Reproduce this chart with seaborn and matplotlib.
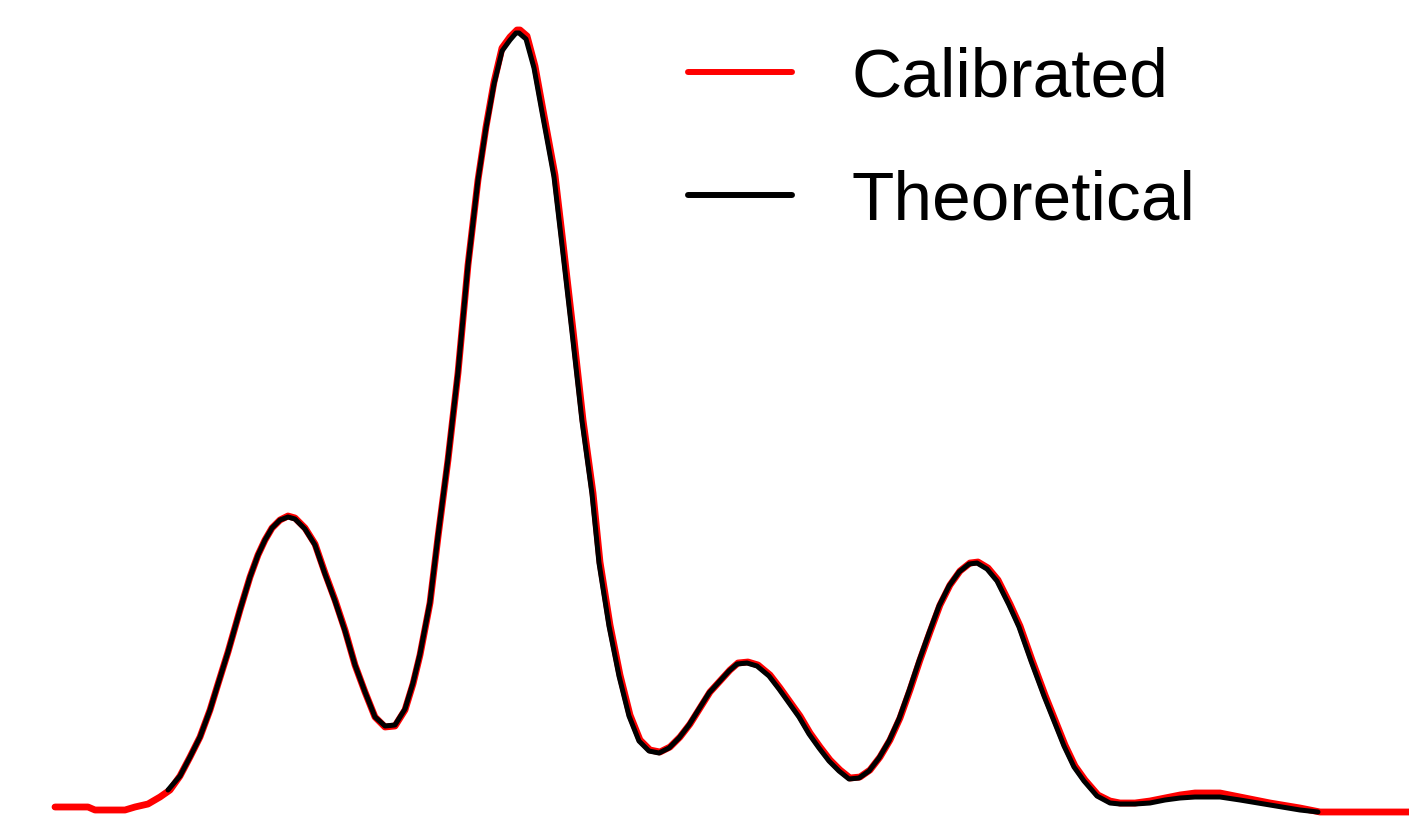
import numpy as np
import pandas as pd
import matplotlib.pyplot as plt
import seaborn as sns
from matplotlib import font_manager

# calibrated spectrum (arbitrary units)
calib_x = [55, 88, 95, 125, 135, 148, 160, 170, 180, 190, 200, 210, 218, 228, 240, 250,
           258, 265, 272, 280, 288, 295, 305, 315, 325, 335, 345, 355, 365, 375, 385, 395,
           405, 413, 420, 430, 438, 448, 458, 468, 478, 486, 494, 502, 510, 517, 520, 527,
           535, 543, 555, 563, 573, 583, 593, 600, 610, 620, 630, 640, 650, 660, 670, 680,
           690, 700, 710, 720, 730, 738, 748, 758, 770, 780, 790, 800, 810, 820, 830, 840,
           850, 860, 870, 880, 890, 900, 910, 920, 930, 940, 950, 960, 970, 978, 988, 998,
           1010, 1020, 1032, 1045, 1055, 1065, 1075, 1085, 1098, 1110, 1120, 1135, 1150,
           1165, 1180, 1195, 1220, 1240, 1270, 1300, 1320, 1409]
calib_y = [23, 23, 20, 20, 23, 26, 33, 40, 54, 73, 93, 120, 146, 178, 220, 253,
           275, 290, 302, 310, 314, 312, 302, 286, 257, 230, 200, 165, 138, 113, 103, 104,
           120, 146, 175, 227, 293, 370, 457, 565, 650, 703, 748, 782, 793, 800, 800, 794,
           764, 720, 655, 587, 500, 410, 337, 268, 205, 155, 115, 90, 80, 78, 83, 93,
           106, 122, 138, 149, 160, 167, 168, 165, 155, 142, 128, 114, 97, 83, 70, 60,
           52, 53, 60, 73, 90, 112, 140, 170, 198, 225, 245, 259, 267, 268, 262, 250,
           226, 204, 170, 135, 110, 85, 64, 50, 35, 29, 27, 27, 29, 32, 35, 37, 37, 33,
           27, 22, 18, 18]

# theoretical spectrum (arbitrary units)
theo_x = [168, 180, 190, 200, 210, 218, 228, 240, 250, 258, 265, 272, 280, 288, 295,
          305, 315, 325, 335, 345, 355, 365, 375, 385, 395, 405, 413, 420, 430, 438, 448,
          458, 468, 478, 486, 494, 502, 510, 516, 519, 526, 534, 542, 554, 562, 572, 582,
          592, 599, 609, 619, 629, 639, 649, 659, 669, 679, 689, 699, 709, 719, 729, 737,
          747, 757, 769, 779, 789, 799, 809, 819, 829, 839, 849, 859, 869, 879, 889, 899,
          909, 919, 929, 939, 949, 959, 969, 977, 987, 997, 1009, 1019, 1031, 1044, 1054,
          1064, 1074, 1084, 1097, 1110, 1120, 1135, 1150, 1165, 1180, 1195, 1220, 1240,
          1270, 1300, 1318]
theo_y = [40, 54, 73, 93, 120, 146, 178, 220, 253, 275, 290, 302, 310, 313, 311,
          301, 285, 256, 229, 199, 165, 138, 113, 104, 105, 121, 147, 176, 228, 294, 371,
          458, 565, 650, 702, 746, 779, 790, 797, 797, 791, 762, 718, 653, 585, 498, 409,
          336, 267, 204, 154, 114, 89, 79, 77, 82, 92, 105, 121, 137, 148, 159, 166,
          167, 164, 154, 141, 127, 113, 96, 82, 69, 59, 51, 52, 59, 72, 89, 111,
          139, 169, 197, 224, 244, 258, 266, 267, 261, 249, 225, 203, 169, 134, 109,
          84, 63, 49, 34, 27, 26, 26, 27, 30, 32, 33, 33, 30, 25, 20, 18]

names = [f.name for f in font_manager.fontManager.ttflist]
fam = 'Liberation Sans Narrow' if 'Liberation Sans Narrow' in names else 'Liberation Sans'

sns.set_theme(style="white")
plt.rcParams['font.family'] = [fam, 'DejaVu Sans']
plt.rcParams['text.color'] = 'black'

fig = plt.figure(figsize=(14.09, 8.30), dpi=100)
ax = fig.add_axes([0, 0, 1, 1])

df_c = pd.DataFrame({'x': calib_x, 'y': calib_y})
df_t = pd.DataFrame({'x': theo_x, 'y': theo_y})

sns.lineplot(data=df_c, x='x', y='y', color='#ff0000', linewidth=4.9,
             estimator=None, label='Calibrated', ax=ax)
sns.lineplot(data=df_t, x='x', y='y', color='black', linewidth=3.6,
             estimator=None, label='Theoretical', ax=ax)

ax.set_xlim(0, 1409)
ax.set_ylim(0, 830)
ax.axis('off')

leg = ax.legend(loc='upper left', bbox_to_anchor=(0.4685, 0.978), frameon=False,
                fontsize=50, handlelength=1.5, handletextpad=0.85,
                labelspacing=0.85, borderaxespad=0)
for h in leg.get_lines():
    h.set_linewidth(4.3)
for t in leg.get_texts():
    t.set_color('black')

fig.savefig('out.png', dpi=100)
